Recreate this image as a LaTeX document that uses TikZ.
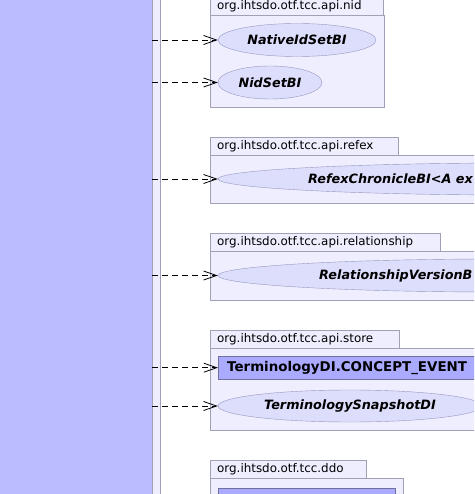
\documentclass[tikz,border=0pt]{standalone}
\usepackage{fontspec}
\setmainfont{DejaVu Sans}
\usepackage{tikz}
\usepackage{xcolor}
\newcommand{\umlpkgfont}{\fontsize{11.9}{14}\selectfont}
\newcommand{\umlifcfont}{\fontsize{12.8}{15}\selectfont\bfseries\itshape}
\newcommand{\umlevtfont}{\fontsize{13.4}{15}\selectfont\bfseries}
\usetikzlibrary{arrows.meta,shapes.geometric}
\definecolor{umlside}{RGB}{187,187,255}
\definecolor{umlsideline}{RGB}{128,128,165}
\definecolor{umlpkg}{RGB}{238,238,255}
\definecolor{umlframe}{RGB}{160,160,182}
\definecolor{umlifc}{RGB}{221,221,252}
\definecolor{umlifcline}{RGB}{150,150,192}
\definecolor{umlevt}{RGB}{170,170,255}
\definecolor{umlevtline}{RGB}{112,112,155}
\tikzset{
  sidepanel/.style={draw=umlsideline, fill=umlside, anchor=north west, inner sep=0pt},
  sidestrip/.style={draw=umlframe, fill=umlpkg, anchor=north west, inner sep=0pt},
  pkgtab/.style={draw=umlframe, fill=umlpkg, anchor=north west, align=left, inner xsep=7pt, inner ysep=0pt, minimum height=18pt, text width=#1, font=\umlpkgfont},
  pkgbody/.style 2 args={draw=umlframe, fill=umlpkg, anchor=north west, minimum width=#1, minimum height=#2, inner sep=0pt},
  ifc/.style 2 args={ellipse, draw=umlifcline, fill=umlifc, minimum width=#1, minimum height=#2, inner sep=0pt, font=\umlifcfont},
  ifclabel/.style={anchor=west, inner sep=0pt, font=\umlifcfont},
  evtbox/.style={draw=umlevtline, fill=umlevt, anchor=north west, align=left, inner xsep=9pt, inner ysep=0pt, minimum height=23pt, font=\umlevtfont},
  dep/.style={-{Straight Barb[length=13pt, width=9pt]}, line width=.8pt, dash pattern=on 6pt off 4pt}
}
\begin{document}
\begin{tikzpicture}[x=1pt, y=-1pt]
  \useasboundingbox (0,0) rectangle (474,494);
  \clip (0,0) rectangle (474,494);
  \node[sidepanel, minimum width=157, minimum height=510] (srcside) at (-5,-8) {};
  \node[sidestrip, minimum width=8, minimum height=510] (srcstrip) at (152,-8) {};
  \node[pkgtab=159] (nidtab) at (210,-3) {org.ihtsdo.otf.tcc.api.nid};
  \node[pkgbody={174}{92}] (nidpkg) at (210,15) {};
  \node[ifc={158}{33}] (nativeid) at (297,40) {NativeIdSetBI};
  \node[ifc={104}{33}] (nidset) at (270,82.5) {NidSetBI};
  \node[pkgtab=174] (refextab) at (210,137) {org.ihtsdo.otf.tcc.api.refex};
  \node[pkgbody={300}{48}] (refexpkg) at (210,155) {};
  \node[ifc={600}{32}] (refexchron) at (518,179) {};
  \node[ifclabel] (refexlbl) at (308,179) {RefexChronicleBI<A ex};
  \node[pkgtab=216] (reltab) at (210,233) {org.ihtsdo.otf.tcc.api.relationship};
  \node[pkgbody={300}{49}] (relpkg) at (210,251) {};
  \node[ifc={560}{33}] (relversion) at (498,275.5) {};
  \node[ifclabel] (rellbl) at (319,275.5) {RelationshipVersionB};
  \node[pkgtab=175] (storetab) at (210,330) {org.ihtsdo.otf.tcc.api.store};
  \node[pkgbody={300}{82}] (storepkg) at (210,348) {};
  \node[evtbox, text width=282] (conceptevt) at (218,356) {TerminologyDI.CONCEPT\_EVENT};
  \node[ifc={264}{32}] (snapshot) at (350,406) {TerminologySnapshotDI};
  \node[pkgtab=142] (ddotab) at (210,460) {org.ihtsdo.otf.tcc.ddo};
  \node[pkgbody={193}{60}] (ddopkg) at (210,478) {};
  \node[evtbox, minimum width=177] (ddoref) at (218,488) {};
  \foreach \tgt in {nativeid,nidset,refexchron,relversion,conceptevt,snapshot,ddoref}
    \draw[dep] (srcside.east |- \tgt.west) -- (\tgt.west);
\end{tikzpicture}
\end{document}
